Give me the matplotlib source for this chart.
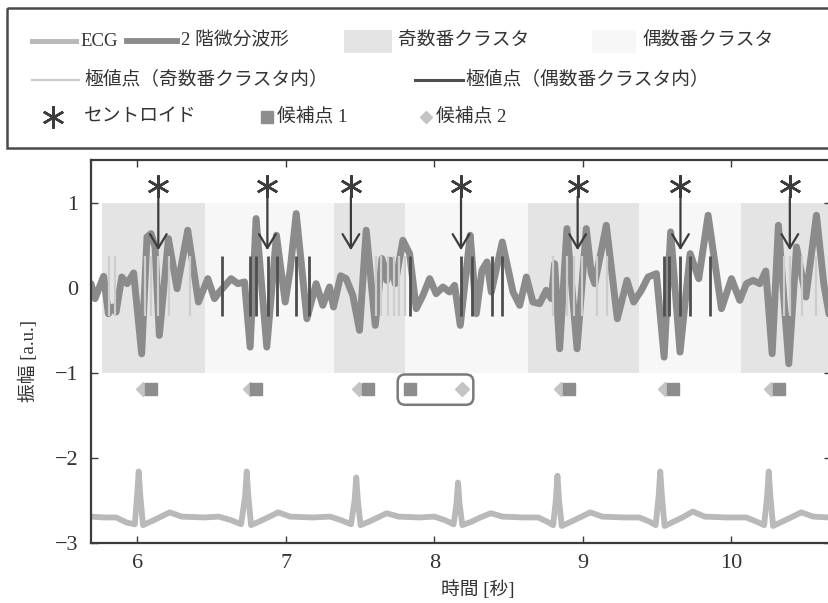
import matplotlib
matplotlib.use('Agg')
import matplotlib.pyplot as plt
from matplotlib.patches import Rectangle, FancyBboxPatch

plt.rcParams['font.family'] = ['Liberation Serif', 'Noto Sans CJK JP']
plt.rcParams['axes.unicode_minus'] = True

# 2nd derivative waveform (time [s], amplitude)
d2_t = [5.690, 5.717, 5.775, 5.807, 5.836, 5.859, 5.897, 5.933, 5.977, 6.031,
        6.067, 6.094, 6.121, 6.150, 6.211, 6.269, 6.341, 6.413, 6.476, 6.521,
        6.554, 6.633, 6.678, 6.723, 6.761, 6.801, 6.873, 6.938, 6.997, 7.030,
        7.071, 7.143, 7.205, 7.250, 7.295, 7.322, 7.370, 7.407, 7.452, 7.497,
        7.542, 7.603, 7.648, 7.681, 7.706, 7.737, 7.789, 7.834, 7.879, 7.924,
        7.969, 8.013, 8.058, 8.103, 8.137, 8.175, 8.216, 8.242, 8.283, 8.321,
        8.355, 8.384, 8.458, 8.530, 8.575, 8.620, 8.664, 8.709, 8.754, 8.788,
        8.810, 8.844, 8.893, 8.961, 9.023, 9.057, 9.080, 9.158, 9.232, 9.297,
        9.342, 9.394, 9.439, 9.495, 9.547, 9.591, 9.654, 9.722, 9.780, 9.843,
        9.892, 9.933, 10.000, 10.056, 10.101, 10.146, 10.191, 10.231, 10.274, 10.316,
        10.386, 10.438, 10.501, 10.572, 10.622, 10.660]
d2_v = [0.047, -0.129, 0.133, -0.306, -0.227, -0.286, 0.125, 0.047, 0.173, -0.777,
        0.596, 0.635, 0.478, -0.561, 0.576, -0.012, 0.675, -0.169, 0.106, -0.129,
        -0.051, 0.106, 0.047, 0.067, -0.698, 0.812, -0.698, 0.616, -0.169, 0.204,
        0.871, -0.365, 0.047, -0.208, 0.008, -0.227, 0.140, 0.106, -0.090, -0.502,
        0.675, -0.443, 0.341, 0.086, 0.322, 0.047, 0.557, 0.400, -0.247, -0.090,
        0.106, -0.071, 0.008, -0.051, 0.027, -0.443, 0.204, 0.616, -0.306, 0.204,
        0.302, -0.051, 0.537, -0.051, -0.208, 0.125, -0.169, -0.188, -0.031, -0.129,
        0.282, -0.718, 0.694, -0.718, 0.694, 0.165, 0.047, 0.733, -0.365, 0.086,
        -0.169, -0.031, 0.125, 0.165, -0.816, 0.655, -0.757, 0.400, 0.106, 0.851,
        0.250, -0.247, 0.106, -0.149, 0.047, 0.086, 0.047, 0.196, -0.776, 0.733,
        -0.894, 0.478, -0.110, 0.851, 0.039, -0.345]

# ECG (offset trace)
ecg_t = [5.690, 5.780, 5.860, 5.930, 5.985, 6.000, 6.011, 6.022, 6.040, 6.090,
         6.150, 6.220, 6.300, 6.450, 6.550, 6.630, 6.700, 6.727, 6.738, 6.749,
         6.767, 6.820, 6.880, 6.950, 7.030, 7.180, 7.300, 7.370, 7.440, 7.464,
         7.475, 7.486, 7.504, 7.560, 7.620, 7.680, 7.760, 7.900, 8.000, 8.070,
         8.130, 8.149, 8.160, 8.171, 8.189, 8.250, 8.310, 8.380, 8.460, 8.600,
         8.700, 8.760, 8.800, 8.818, 8.829, 8.840, 8.858, 8.920, 8.980, 9.050,
         9.130, 9.280, 9.380, 9.450, 9.490, 9.510, 9.521, 9.532, 9.550, 9.610,
         9.670, 9.740, 9.820, 9.970, 10.100, 10.170, 10.220, 10.240, 10.251, 10.262,
         10.280, 10.340, 10.400, 10.470, 10.550, 10.660]
ecg_v = [-2.69, -2.70, -2.70, -2.76, -2.78, -2.45, -2.16, -2.45, -2.79, -2.75,
         -2.70, -2.64, -2.69, -2.70, -2.69, -2.73, -2.78, -2.45, -2.16, -2.45,
         -2.79, -2.75, -2.70, -2.64, -2.69, -2.70, -2.69, -2.73, -2.78, -2.50,
         -2.23, -2.50, -2.79, -2.75, -2.70, -2.65, -2.69, -2.70, -2.69, -2.73,
         -2.78, -2.55, -2.29, -2.55, -2.79, -2.75, -2.70, -2.65, -2.69, -2.70,
         -2.70, -2.75, -2.79, -2.50, -2.21, -2.50, -2.80, -2.75, -2.70, -2.64,
         -2.69, -2.70, -2.70, -2.75, -2.79, -2.45, -2.16, -2.45, -2.80, -2.75,
         -2.70, -2.63, -2.69, -2.70, -2.70, -2.75, -2.79, -2.45, -2.16, -2.45,
         -2.80, -2.75, -2.70, -2.64, -2.69, -2.70]

# clusters (start, end)
odd_clusters = [(5.762, 6.458), (7.327, 7.805), (8.633, 9.380), (10.061, 10.70)]
even_clusters = [(6.458, 7.327), (7.805, 8.633), (9.380, 10.061)]
band_lo, band_hi = -1.0, 1.0

# extrema points
odd_ext_t = [5.811, 5.852, 6.054, 6.092, 6.143, 6.215, 6.357,
             7.609, 7.639, 7.688, 7.726, 7.766, 7.800,
             8.801, 8.896, 8.943, 8.997, 9.098, 9.165,
             10.357, 10.391, 10.478, 10.572]
even_ext_t = [6.570, 6.761, 6.799, 6.884, 6.941, 7.071, 7.154,
              7.834, 8.180, 8.254, 8.389, 8.456,
              9.547, 9.578, 9.652, 9.724, 9.854]
ext_lo, ext_hi = -0.335, 0.37

# centroids
centroid_t = [6.143, 6.877, 7.439, 8.180, 8.965, 9.657, 10.393]
centroid_y = 1.20
arrow_from, arrow_to = 1.07, 0.44

# candidate points
cand1_t = [6.096, 6.801, 7.552, 7.834, 8.908, 9.606, 10.321]
cand2_t = [6.039, 6.757, 7.494, 8.187, 8.851, 9.552, 10.263]
cand_y = -1.196

c_ecg = '#b9b9b9'
c_d2 = '#8b8b8b'
c_odd = '#e4e4e4'
c_even = '#f7f7f7'
c_ext_odd = '#cdcdcd'
c_ext_even = '#4e4e4e'
c_dark = '#3c3c3c'
c_sq = '#8d8d8d'
c_dia = '#c4c4c4'

fig = plt.figure(figsize=(8.29, 6.03), dpi=100)
ax = fig.add_axes([91 / 829, 1 - 543 / 603, 740 / 829, 383 / 603])

for a, b in odd_clusters:
    ax.axvspan(a, b, ymin=(band_lo + 3) / 4.5, ymax=(band_hi + 3) / 4.5,
               color=c_odd, lw=0, zorder=0)
for a, b in even_clusters:
    ax.axvspan(a, b, ymin=(band_lo + 3) / 4.5, ymax=(band_hi + 3) / 4.5,
               color=c_even, lw=0, zorder=0)

ax.plot(ecg_t, ecg_v, color=c_ecg, lw=4.2, solid_joinstyle='round', zorder=2)
ax.plot(d2_t, d2_v, color=c_d2, lw=5.0, solid_joinstyle='round',
        solid_capstyle='round', zorder=2)
ax.vlines(odd_ext_t, ext_lo, ext_hi, color=c_ext_odd, lw=1.6, zorder=3)
ax.vlines(even_ext_t, ext_lo, ext_hi, color=c_ext_even, lw=2.0, zorder=3)

ax.plot(centroid_t, [centroid_y] * len(centroid_t), ls='none',
        marker=(6, 2, 0), ms=16, mew=1.8, color=c_dark, zorder=5)
for t in centroid_t:
    ax.annotate('', xy=(t, arrow_to), xytext=(t, arrow_from),
                arrowprops=dict(arrowstyle='->,head_length=0.5,head_width=0.3',
                                lw=1.6, color=c_dark, shrinkA=0, shrinkB=0,
                                mutation_scale=20), zorder=5)

ax.plot(cand2_t, [cand_y] * len(cand2_t), ls='none', marker='D', ms=7,
        color=c_dia, zorder=4)
ax.plot(cand1_t, [cand_y] * len(cand1_t), ls='none', marker='s', ms=9,
        color=c_sq, zorder=4)
ax.add_patch(FancyBboxPatch((7.754, -1.376), 0.509, 0.356,
                            boxstyle='round,pad=0,rounding_size=0.05',
                            mutation_aspect=148.5 / 85, fill=False,
                            ec='#7a7a7a', lw=1.8, zorder=4))

ax.set_xlim(5.690, 10.67)
ax.set_ylim(-3, 1.5)
ax.set_xticks([6, 7, 8, 9, 10])
ax.set_yticks([-3, -2, -1, 0, 1])
ax.tick_params(direction='in', length=5, width=1.0, color=c_dark,
               top=True, right=True, labelsize=16, labelcolor='#333333')
ax.tick_params(axis='x', pad=8)
ax.tick_params(axis='y', pad=9)
for s in ax.spines.values():
    s.set_linewidth(1.6)
    s.set_color(c_dark)
ax.set_xlabel('時間 [秒]', fontsize=13.5, color='#333333')
ax.set_ylabel('振幅 [a.u.]', fontsize=13.5, color='#333333')
ax.xaxis.set_label_coords(0.522, -0.097)
ax.yaxis.set_label_coords(-0.072, 0.475)

# legend drawn in pixel space
lg = fig.add_axes([0, 1 - 152 / 603, 1, 152 / 603])
lg.set_xlim(0, 829)
lg.set_ylim(152, 0)
lg.axis('off')
lg.add_patch(Rectangle((7, 8), 830, 140, fill=False, ec='#4a4a4a', lw=1.8))
fs = 13.5
tc = '#333333'
r1, r2, r3 = 41, 80, 117
lg.plot([32, 76], [r1, r1], color=c_ecg, lw=3.6)
lg.text(80, r1, 'ECG', fontsize=fs, va='center', color=tc)
lg.plot([127, 177], [r1, r1], color=c_d2, lw=4.2)
lg.text(181, r1, '2 階微分波形', fontsize=fs, va='center', color=tc)
lg.add_patch(Rectangle((344, 30), 48, 23, color=c_odd, lw=0))
lg.text(398, r1, '奇数番クラスタ', fontsize=fs, va='center', color=tc)
lg.add_patch(Rectangle((592, 30), 44, 23, color=c_even, lw=0))
lg.text(642, r1, '偶数番クラスタ', fontsize=fs, va='center', color=tc)
lg.plot([32, 79], [r2, r2], color=c_ext_odd, lw=1.6)
lg.text(84, r2, '極値点（奇数番クラスタ内）', fontsize=fs, va='center', color=tc)
lg.plot([415, 463], [r2, r2], color=c_ext_even, lw=2.2)
lg.text(465, r2, '極値点（偶数番クラスタ内）', fontsize=fs, va='center', color=tc)
lg.plot([53], [r3], marker=(6, 2, 0), ms=16, mew=1.8, color=c_dark)
lg.text(84, r3, 'セントロイド', fontsize=fs, va='center', color=tc)
lg.plot([267], [r3], marker='s', ms=8, color=c_sq)
lg.text(277, r3, '候補点 1', fontsize=fs, va='center', color=tc)
lg.plot([426], [r3], marker='D', ms=6, color=c_dia)
lg.text(436, r3, '候補点 2', fontsize=fs, va='center', color=tc)

fig.savefig('out.png', dpi=100)
